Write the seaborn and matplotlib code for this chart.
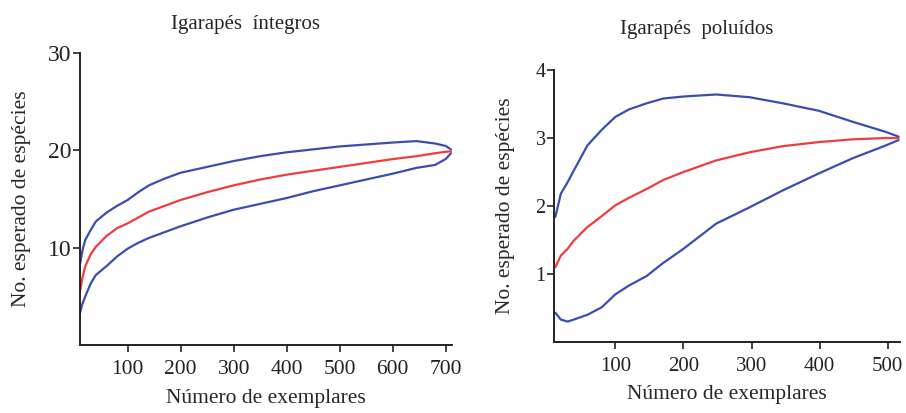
import numpy as np
import pandas as pd
import matplotlib
matplotlib.use('Agg')
import matplotlib.pyplot as plt
import seaborn as sns

# Curvas de rarefacao - igarapes integros
int_x = [10, 15, 20, 30, 40, 60, 80, 100, 120, 140, 170, 200, 250, 300, 350, 400,
         450, 500, 550, 600, 645, 680, 700, 710]
int_upper = [8.3, 9.8, 10.8, 11.8, 12.7, 13.6, 14.3, 14.9, 15.7, 16.4, 17.1, 17.7, 18.3,
             18.9, 19.4, 19.8, 20.1, 20.4, 20.6, 20.8, 20.95, 20.7, 20.45, 20.1]
int_mean = [5.5, 7.0, 8.1, 9.3, 10.1, 11.2, 12.0, 12.5, 13.1, 13.7, 14.3, 14.9, 15.7,
            16.4, 17.0, 17.5, 17.9, 18.3, 18.7, 19.1, 19.4, 19.7, 19.85, 19.9]
int_lower = [3.3, 4.3, 5.0, 6.3, 7.2, 8.1, 9.1, 9.9, 10.5, 11.0, 11.6, 12.2, 13.1,
             13.9, 14.5, 15.1, 15.8, 16.4, 17.0, 17.6, 18.2, 18.5, 19.1, 19.7]

# Curvas de rarefacao - igarapes poluidos
pol_x = [12, 20, 30, 39, 59, 80, 100, 120, 146, 170, 200, 248, 297, 346, 399, 448, 497, 516]
pol_upper = [1.84, 2.18, 2.35, 2.52, 2.89, 3.12, 3.31, 3.42, 3.51, 3.58, 3.61, 3.64,
             3.60, 3.51, 3.40, 3.24, 3.09, 3.02]
pol_mean = [1.10, 1.27, 1.37, 1.49, 1.69, 1.85, 2.01, 2.12, 2.25, 2.38, 2.50, 2.67,
            2.79, 2.88, 2.94, 2.98, 3.00, 3.00]
pol_lower = [0.43, 0.33, 0.30, 0.33, 0.40, 0.51, 0.70, 0.83, 0.97, 1.16, 1.37, 1.74,
             1.98, 2.23, 2.48, 2.70, 2.89, 2.97]

blue = '#3a4db0'
red = '#f03c3c'

sns.set_style('ticks')
plt.rcParams['font.family'] = ['Liberation Serif', 'DejaVu Serif']

fig = plt.figure(figsize=(9.06, 4.13), dpi=100)
W, H = 906, 413

def make_axes(left, top, right, bottom):
    return fig.add_axes([left / W, 1 - bottom / H, (right - left) / W, (bottom - top) / H])

def draw_panel(ax, x, upper, mean, lower):
    df = pd.DataFrame({'x': x, 'upper': upper, 'mean': mean, 'lower': lower})
    sns.lineplot(data=df, x='x', y='upper', ax=ax, color=blue, lw=1.6)
    sns.lineplot(data=df, x='x', y='lower', ax=ax, color=blue, lw=1.6)
    sns.lineplot(data=df, x='x', y='mean', ax=ax, color=red, lw=1.6)
    sns.despine(ax=ax)
    for s in ['left', 'bottom']:
        ax.spines[s].set_linewidth(1.4)
        ax.spines[s].set_color('#222222')
    ax.tick_params(direction='out', length=5, width=1.2, colors='#222222')
    ax.tick_params(axis='x', pad=6)
    ax.tick_params(axis='y', pad=1)

# Painel esquerdo
ax1 = make_axes(80, 53, 452, 345)
draw_panel(ax1, int_x, int_upper, int_mean, int_lower)
ax1.set_xlim(10, 712)
ax1.set_ylim(0, 30)
ax1.set_xticks([100, 200, 300, 400, 500, 600, 700])
ax1.set_yticks([10, 20, 30])
ax1.tick_params(axis='x', labelsize=15.5)
ax1.tick_params(axis='y', labelsize=17)
ax1.set_xlabel('Número de exemplares', fontsize=15.5, labelpad=7)
ax1.set_ylabel('No. esperado de espécies', fontsize=15.5, labelpad=12)
ax1.set_title('Igarapés  íntegros', fontsize=15, pad=17, x=0.445)

# Painel direito
ax2 = make_axes(554, 70, 900, 342)
draw_panel(ax2, pol_x, pol_upper, pol_mean, pol_lower)
ax2.set_xlim(10, 518)
ax2.set_ylim(0, 4)
ax2.set_xticks([100, 200, 300, 400, 500])
ax2.set_yticks([1, 2, 3, 4])
ax2.tick_params(axis='x', labelsize=15)
ax2.tick_params(axis='y', labelsize=14.5)
ax2.set_xlabel('Número de exemplares', fontsize=15.5, labelpad=6)
ax2.set_ylabel('No. esperado de espécies', fontsize=15.5, labelpad=15)
ax2.set_title('Igarapés  poluídos', fontsize=15, pad=26, x=0.413)

fig.savefig('out.png', dpi=100)
